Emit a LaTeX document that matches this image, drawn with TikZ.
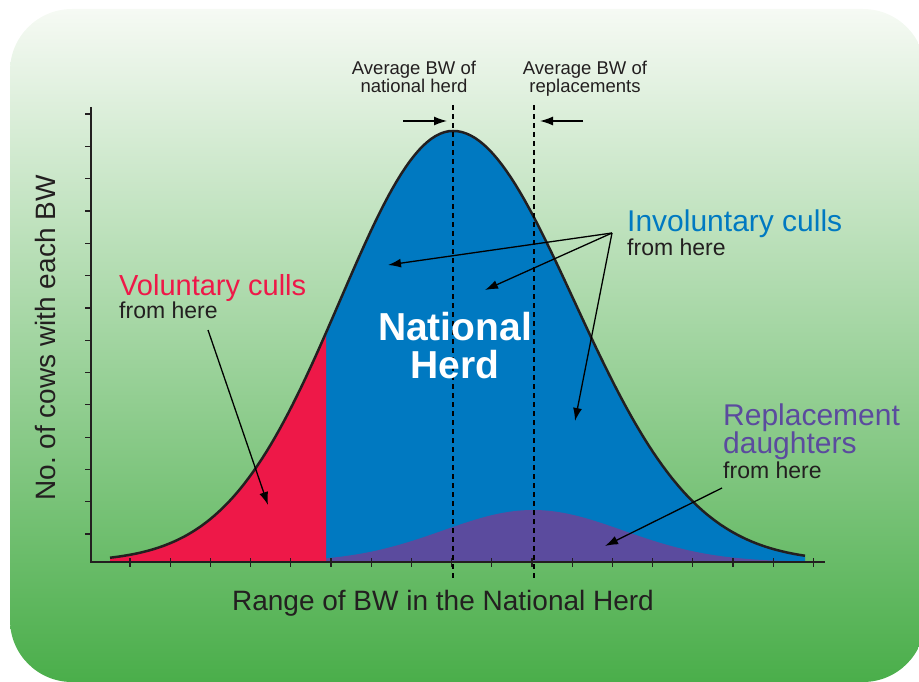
\documentclass[tikz,border=0pt]{standalone}
\usepackage{fontspec}
\setmainfont{Liberation Sans}
\usepackage{tikz}
\usetikzlibrary{arrows.meta,positioning}
\definecolor{herdBlue}{HTML}{0079C1}
\definecolor{cullRed}{HTML}{EE1848}
\definecolor{replPurple}{HTML}{5B4B9E}
\definecolor{bgTop}{HTML}{F6FAF4}
\definecolor{bgMid}{HTML}{AAD5A0}
\definecolor{bgBottom}{HTML}{4AAE4A}
\definecolor{textDark}{HTML}{231F20}
% national herd curve, a little wider on the right
\newcommand{\herdL}[1]{562-431*exp(-0.5*((#1-453)/113)^2)}
\newcommand{\herdR}[1]{562-431*exp(-0.5*((#1-453)/121)^2)}

\begin{document}
\begin{tikzpicture}[x=1pt,y=-1pt,
  pointer/.style={line width=1.3pt,-{Latex[length=13pt,width=9pt]}},
  avgline/.style={line width=2pt,dash pattern=on 5pt off 4pt},
  note/.style={inner sep=0pt,anchor=base west,align=left}]
\useasboundingbox (0,0) rectangle (919,682);
% background panel
\shade[top color=bgTop,middle color=bgMid,bottom color=bgBottom,rounded corners=62pt] (10,9) rectangle (925,682);
% distributions
\fill[herdBlue] (110,562) -- plot[domain=110:453,samples=80] (\x,{\herdL{\x}})
  -- plot[domain=453:805,samples=80] (\x,{\herdR{\x}}) -- (805,562) -- cycle;
\fill[replPurple] (290,562) -- plot[domain=290:800,samples=120] (\x,{562-52*exp(-0.5*((\x-533)/90)^2)}) -- (800,562) -- cycle;
\fill[cullRed] (110,562) -- plot[domain=110:326,samples=60] (\x,{\herdL{\x}}) -- (326,562) -- cycle;
\draw[line width=2.5pt,textDark] plot[domain=110:453,samples=80] (\x,{\herdL{\x}})
  -- plot[domain=453:805,samples=80] (\x,{\herdR{\x}});
% axes
\draw[line width=1.5pt,textDark] (91,107) -- (91,562) -- (825,562);
% axes ticks
\foreach \k in {0,...,13}
  \draw[line width=1.2pt,textDark] (85,534-32.3*\k) -- (91,534-32.3*\k);
\foreach \k in {0,...,17}
  \draw[line width=1.2pt,textDark] (130+40.2*\k,558) -- (130+40.2*\k,567);
% averages
\coordinate (herdAvgTop) at (453,105);
\coordinate (herdAvgBot) at (453,578);
\coordinate (replAvgTop) at (534,105);
\coordinate (replAvgBot) at (534,578);
\draw[avgline] (herdAvgTop) -- (herdAvgBot);
\draw[avgline] (replAvgTop) -- (replAvgBot);
\coordinate (herdArrowFrom) at (403,121);
\coordinate (herdArrowTo) at (447,121);
\coordinate (replArrowFrom) at (583,121);
\coordinate (replArrowTo) at (540,121);
\draw[pointer] (herdArrowFrom) -- (herdArrowTo);
\draw[pointer] (replArrowFrom) -- (replArrowTo);
\node[align=center,anchor=base,inner sep=0pt,textDark,font=\fontsize{18.5}{18}\selectfont] (herdAvg) at (414,93) {Average BW of\\national herd};
\node[align=center,anchor=base,inner sep=0pt,textDark,font=\fontsize{18.5}{18}\selectfont] (replAvg) at (585,93) {Average BW of\\replacements};
% labels
\node[align=center,anchor=base,inner sep=0pt,white,font=\fontsize{39}{38}\selectfont\bfseries] (herd) at (455,378) {National\\Herd};
\node[note,herdBlue,font=\fontsize{30}{30}\selectfont] (invol) at (627,232) {Involuntary culls};
\node[note,textDark,font=\fontsize{23}{23}\selectfont] (involFrom) at (627,255) {from here};
\node[note,cullRed,font=\fontsize{29}{29}\selectfont] (volun) at (119,295) {Voluntary culls};
\node[note,textDark,font=\fontsize{23}{23}\selectfont] (volunFrom) at (119,318) {from here};
\node[note,replPurple,font=\fontsize{30}{28}\selectfont] (repl) at (723,453) {Replacement\\daughters};
\node[note,textDark,font=\fontsize{23}{23}\selectfont] (replFrom) at (723,478) {from here};
\node[anchor=base,inner sep=0pt,textDark,font=\fontsize{28}{28}\selectfont] (xlab) at (443,610) {Range of BW in the National Herd};
\node[anchor=base,inner sep=0pt,rotate=90,textDark,font=\fontsize{28}{28}\selectfont] (ylab) at (55,338) {No.\ of cows with each BW};
% pointers
\coordinate (involSrc) at (612,233);
\coordinate (involTipA) at (388,265);
\coordinate (involTipB) at (485,290);
\coordinate (involTipC) at (575,421);
\coordinate (volunSrc) at (208,330);
\coordinate (volunTip) at (268,505);
\coordinate (replSrc) at (722,488);
\coordinate (replTip) at (605,546);
\draw[pointer] (involSrc) -- (involTipA);
\draw[pointer] (involSrc) -- (involTipB);
\draw[pointer] (involSrc) -- (involTipC);
\draw[pointer] (volunSrc) -- (volunTip);
\draw[pointer] (replSrc) -- (replTip);
\end{tikzpicture}
\end{document}
